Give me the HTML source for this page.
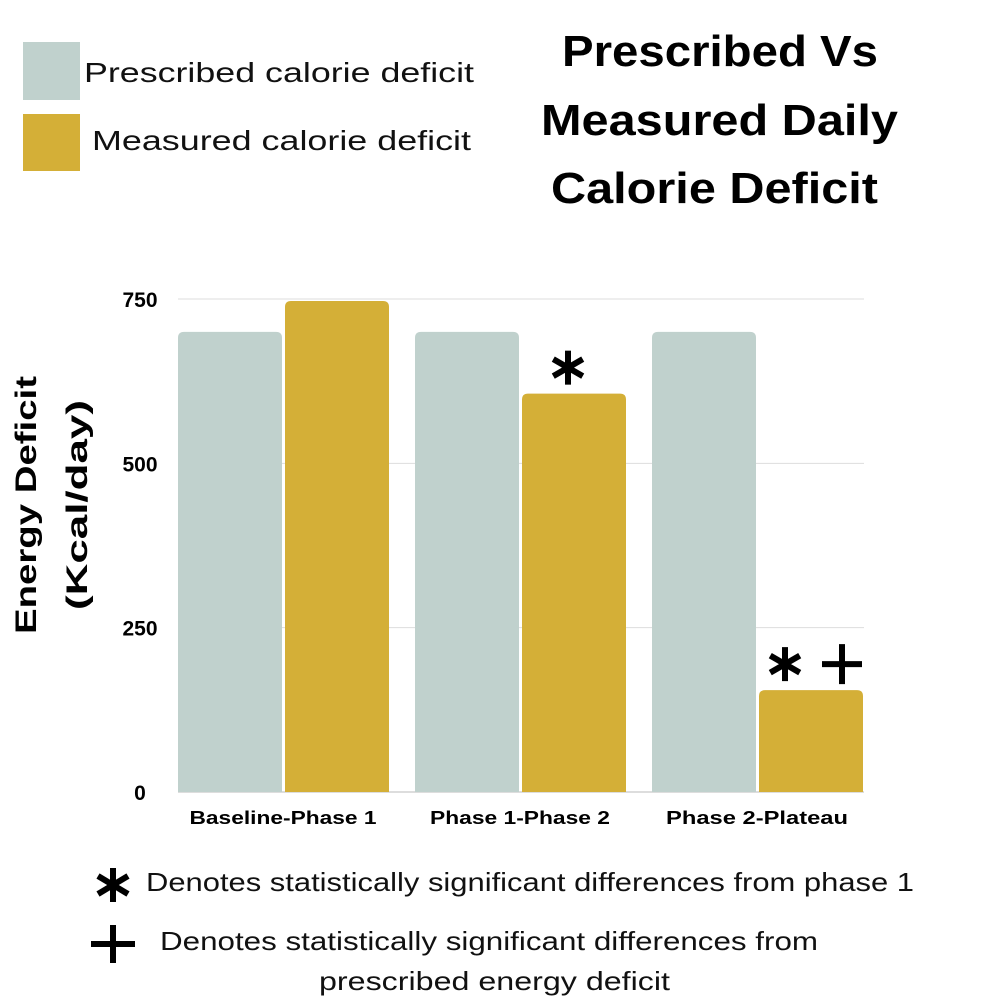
<!DOCTYPE html>
<html><head><meta charset="utf-8"><style>
body{margin:0;background:#fff;width:1000px;height:1000px;overflow:hidden;font-family:"Liberation Sans",sans-serif}
</style></head><body>
<svg width="1000" height="1000" xmlns="http://www.w3.org/2000/svg" id="svg">
<rect x="23" y="42" width="57" height="58" fill="#c0d1cd"/>
<text x="84" y="82" font-size="28" fill="#111" textLength="390" lengthAdjust="spacingAndGlyphs">Prescribed calorie deficit</text>
<rect x="23" y="114" width="57" height="57" fill="#d4af37"/>
<text x="92" y="150" font-size="28" fill="#111" textLength="379" lengthAdjust="spacingAndGlyphs">Measured calorie deficit</text>
<g font-size="44" font-weight="bold" fill="#000">
<text x="562" y="66" textLength="316" lengthAdjust="spacingAndGlyphs">Prescribed Vs</text>
<text x="541" y="135" textLength="357" lengthAdjust="spacingAndGlyphs">Measured Daily</text>
<text x="551" y="203" textLength="327" lengthAdjust="spacingAndGlyphs">Calorie Deficit</text>
</g>
<text transform="translate(36,505) rotate(-90)" font-size="30" font-weight="bold" text-anchor="middle"><tspan x="0" y="0" textLength="258" lengthAdjust="spacingAndGlyphs">Energy Deficit</tspan><tspan x="0" y="51" textLength="210" lengthAdjust="spacingAndGlyphs">(Kcal/day)</tspan></text>
<g id="grid"></g><g id="bars"></g><g id="labels"></g>
<g font-size="26" fill="#111">
<g stroke="#000" stroke-width="6">
<line x1="113" y1="868" x2="113" y2="902"/><line x1="98" y1="876" x2="128" y2="894"/><line x1="98" y1="894" x2="128" y2="876"/></g>
<text x="146" y="891" textLength="768" lengthAdjust="spacingAndGlyphs">Denotes statistically significant differences from phase 1</text>
<g stroke="#000" stroke-width="6">
<line x1="113" y1="925" x2="113" y2="963"/><line x1="91" y1="944" x2="135" y2="944"/></g>
<text x="160" y="950" textLength="658" lengthAdjust="spacingAndGlyphs">Denotes statistically significant differences from</text>
<text x="319" y="990" textLength="351" lengthAdjust="spacingAndGlyphs">prescribed energy deficit</text>
</g>
</svg>
<script>
const categories=["Baseline-Phase 1","Phase 1-Phase 2","Phase 2-Plateau"];
const prescribed=[700,700,700];
const measured=[747,606,155];
const ticks=[0,250,500,750];
const marks=["","*","*+"];
const labelWidths=[187,180,182];
const NS="http://www.w3.org/2000/svg";
const y0=792,y1=299;
const yS=v=>y0-(v/750)*(y0-y1);
const groupX=i=>178+i*237;
function mk(t,a,p){const e=document.createElementNS(NS,t);for(const k in a)e.setAttribute(k,a[k]);p.appendChild(e);return e;}
const grid=document.getElementById('grid'),bars=document.getElementById('bars'),labels=document.getElementById('labels');
ticks.forEach(t=>{
 const l=mk('line',{x1:178,x2:864,y1:yS(t),y2:yS(t),stroke:t?'#ddd':'#bbb','stroke-width':1},grid);
 
 
 const tx=mk('text',{x:140,y:yS(t)+8,'font-size':21,'font-weight':'bold','text-anchor':'middle'},labels);
 tx.textContent=t;
 
 
});
function bar(x,v,c,name){
 const y=yS(v),w=104,r=6;
 const p=mk('path',{d:`M${x},${y0}V${y+r}Q${x},${y} ${x+r},${y}H${x+w-r}Q${x+w},${y} ${x+w},${y+r}V${y0}Z`,fill:c},bars);
 
 
}
function asterisk(cx,cy,s,name){
 const g=mk('g',{stroke:'#000','stroke-width':6},labels);
 
 
 [90,30,150].forEach(a=>{const r=a*Math.PI/180,dx=Math.cos(r)*s,dy=Math.sin(r)*s;mk('line',{x1:cx-dx,y1:cy-dy,x2:cx+dx,y2:cy+dy},g);});
}
function plus(cx,cy,s,name){
 const g=mk('g',{stroke:'#000','stroke-width':6},labels);
 
 
 mk('line',{x1:cx,y1:cy-s,x2:cx,y2:cy+s},g);mk('line',{x1:cx-s,y1:cy,x2:cx+s,y2:cy},g);
}
categories.forEach((c,i)=>{
 const gx=groupX(i);
 bar(gx,prescribed[i],'#c0d1cd','bar-prescribed-'+(i+1));
 bar(gx+107,measured[i],'#d4af37','bar-measured-'+(i+1));
 const t=mk('text',{x:gx+105-labelWidths[i]/2,y:824,'font-size':18,'font-weight':'bold',textLength:labelWidths[i],lengthAdjust:'spacingAndGlyphs'},labels);
 t.textContent=c;
 
 
 const my=yS(measured[i])-26;
 if(marks[i]==="*") asterisk(gx+107+46,my,17,'significance-asterisk-'+(i+1));
 if(marks[i]==="*+"){asterisk(gx+107+26,my,17,'significance-asterisk-'+(i+1));plus(gx+107+83,my,20,'significance-plus-'+(i+1));}
});
</script>
</body></html>
